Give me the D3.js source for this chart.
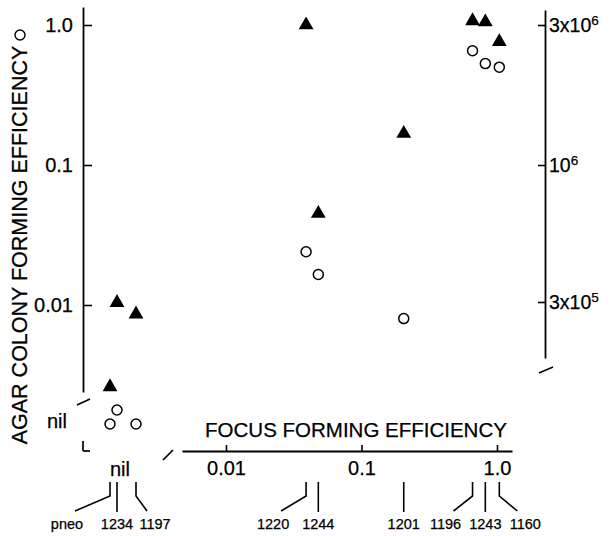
<!DOCTYPE html>
<html lang="en">
<head>
<meta charset="UTF-8">
<title>Agar colony vs focus forming efficiency</title>
<script src="https://d3js.org/d3.v7.min.js"></script>
<style>
  body { margin: 0; background: #fff; }
  text { font-family: "Liberation Sans", Arial, sans-serif; fill: #000; stroke: #000; stroke-width: 0.25px; }
</style>
</head>
<body>
<div id="chart"></div>
<script>
// cell lines, focus forming efficiency (null = nil) and agar colony forming efficiencies
var strains = ["pneo", "1234", "1197", "1220", "1244", "1201", "1196", "1243", "1160"];
var focusEff = [null, null, null, 0.039, 0.048, 0.205, 0.66, 0.82, 1.04];
var agarCircle = [null, null, null, 0.024, 0.0165, 0.008, 0.655, 0.53, 0.50];
var agarTriangle = [0.0026, 0.0104, 0.0086, 1.0, 0.045, 0.168, 1.07, 1.05, 0.76];

var yTicks = [1, 0.1, 0.01];
var yTickLabels = ["1.0", "0.1", "0.01"];
var xTicks = [0.01, 0.1, 1];
var xTickLabels = ["0.01", "0.1", "1.0"];
var rightTicks = [3e5, 1e6, 3e6];
var rightTickBase = ["3x10", "10", "3x10"];
var rightTickExp = ["5", "6", "6"];

var width = 610, height = 536;
var ink = "#000";

var svg = d3.select('#chart').append('svg')
    .attr('width', width)
    .attr('height', height)
    .style('background', '#fff');

// scales
var xScale = d3.scaleLog().domain([0.01, 1]).range([226, 497]);
var yScale = d3.scaleLog().domain([0.01, 1]).range([305, 25]);
var yRight = d3.scaleLog().domain(rightTicks).range([302, 165, 25]);
var nilStrains = strains.filter((s, i) => focusEff[i] == null);
var nilX = d3.scaleOrdinal().domain(nilStrains).range([110, 117, 136]);
var nilY = 424;

function styleAxis(g, size) {
    g.attr('font-family', null).attr('font-size', size);
    g.select('.domain').attr('stroke', ink).attr('stroke-width', 1.8);
    g.selectAll('.tick line').attr('stroke', ink).attr('stroke-width', 1.6);
    g.selectAll('.tick text').attr('fill', ink);
}

// left axis (log part)
var yAxisScale = yScale.copy().domain([yScale.invert(392), yScale.invert(7)]).range([392, 7]);
svg.append('g')
    .attr('transform', 'translate(83,0)')
    .call(d3.axisLeft(yAxisScale).tickValues(yTicks).tickSizeInner(-9).tickSizeOuter(0)
        .tickPadding(10).tickFormat((d, i) => yTickLabels[i]))
    .call(g => styleAxis(g, 20));

// bottom axis (log part)
var xAxisScale = xScale.copy().domain([xScale.invert(182), xScale.invert(512)]).range([182, 512]);
svg.append('g')
    .attr('transform', 'translate(0,451)')
    .call(d3.axisBottom(xAxisScale).tickValues(xTicks).tickSizeInner(-6).tickSizeOuter(0)
        .tickPadding(10).tickFormat((d, i) => xTickLabels[i]))
    .call(g => styleAxis(g, 20));

// right axis
var yRightAxis = d3.scaleLog()
    .domain([yRight.invert(358)].concat(rightTicks, [yRight.invert(10)]))
    .range([358, 302, 165, 25, 10]);
var rg = svg.append('g')
    .attr('transform', 'translate(545,0)')
    .call(d3.axisLeft(yRightAxis).tickValues(rightTicks).tickSizeInner(7).tickSizeOuter(0).tickFormat(''))
    .call(g => styleAxis(g, 19));
rg.selectAll('.tick text').remove();
rightTicks.forEach(function(v, i) {
    var t = svg.append('text')
        .attr('x', 549)
        .attr('y', yRight(v))
        .attr('dy', '0.38em')
        .attr('font-size', 19.5);
    t.append('tspan').text(rightTickBase[i]);
    t.append('tspan').attr('font-size', 13.5).attr('dy', '-0.55em').text(rightTickExp[i]);
});

// axis breaks and the "nil" corner
var breaks = [[[77, 405], [90, 399]], [[539, 373], [553, 367]], [[163, 460], [173, 450]],
              [[83, 441], [83, 451]], [[83, 451], [90, 451]]];
svg.selectAll('.brk').data(breaks).enter().append('line')
    .attr('class', 'brk')
    .attr('x1', d => d[0][0]).attr('y1', d => d[0][1])
    .attr('x2', d => d[1][0]).attr('y2', d => d[1][1])
    .attr('stroke', ink).attr('stroke-width', 1.7);

svg.append('text').attr('x', 67).attr('y', 428).attr('text-anchor', 'end')
    .attr('font-size', 20).text('nil');
svg.append('text').attr('x', 120).attr('y', 476).attr('text-anchor', 'middle')
    .attr('font-size', 20).text('nil');

// titles
svg.append('text')
    .attr('transform', 'translate(27,245) rotate(-90)')
    .attr('text-anchor', 'middle')
    .attr('font-size', 21.5)
    .text('AGAR COLONY FORMING EFFICIENCY');
svg.append('circle').attr('cx', 20).attr('cy', 35).attr('r', 5)
    .attr('fill', 'none').attr('stroke', ink).attr('stroke-width', 1.4);
svg.append('text')
    .attr('x', 356).attr('y', 437)
    .attr('text-anchor', 'middle')
    .attr('font-size', 20.5)
    .text('FOCUS FORMING EFFICIENCY');

// point positions
function px(i) { return focusEff[i] == null ? nilX(strains[i]) : xScale(focusEff[i]); }

var placed = [];
var circles = strains.map(function(s, i) {
    var x = px(i), y;
    if (agarCircle[i] == null) {
        y = nilY;
        while (placed.some(p => Math.abs(p[0] - x) < 11 && Math.abs(p[1] - y) < 11)) y -= 14;
        placed.push([x, y]);
    } else {
        y = yScale(agarCircle[i]);
    }
    return {x: x, y: y};
});
var triangles = strains.map((s, i) => ({x: px(i), y: yScale(agarTriangle[i])}));

svg.selectAll('.tri').data(triangles).enter().append('path')
    .attr('class', 'tri')
    .attr('d', d3.symbol(d3.symbolTriangle).size(95))
    .attr('transform', d => 'translate(' + d.x + ',' + d.y + ')')
    .attr('fill', ink);

svg.selectAll('.circ').data(circles).enter().append('circle')
    .attr('class', 'circ')
    .attr('cx', d => d.x).attr('cy', d => d.y).attr('r', 5)
    .attr('fill', '#fff').attr('stroke', ink).attr('stroke-width', 1.5);

// strain labels with leader lines
var labelShift = {"pneo": -43, "1197": 19, "1220": -33, "1196": -27, "1160": 26};
strains.forEach(function(s, i) {
    var x = px(i);
    var dx = labelShift[s] || 0;
    var pts = dx === 0 ? [[x, 482], [x, 512]]
        : [[x, 482], [x, 496], [x + dx - Math.sign(dx) * 8, 511]];
    svg.append('path')
        .attr('d', d3.line()(pts))
        .attr('fill', 'none').attr('stroke', ink).attr('stroke-width', 1.6);
    svg.append('text')
        .attr('x', x + dx).attr('y', 529)
        .attr('text-anchor', 'middle')
        .attr('font-size', 14.5)
        .text(s);
});
</script>
</body>
</html>
